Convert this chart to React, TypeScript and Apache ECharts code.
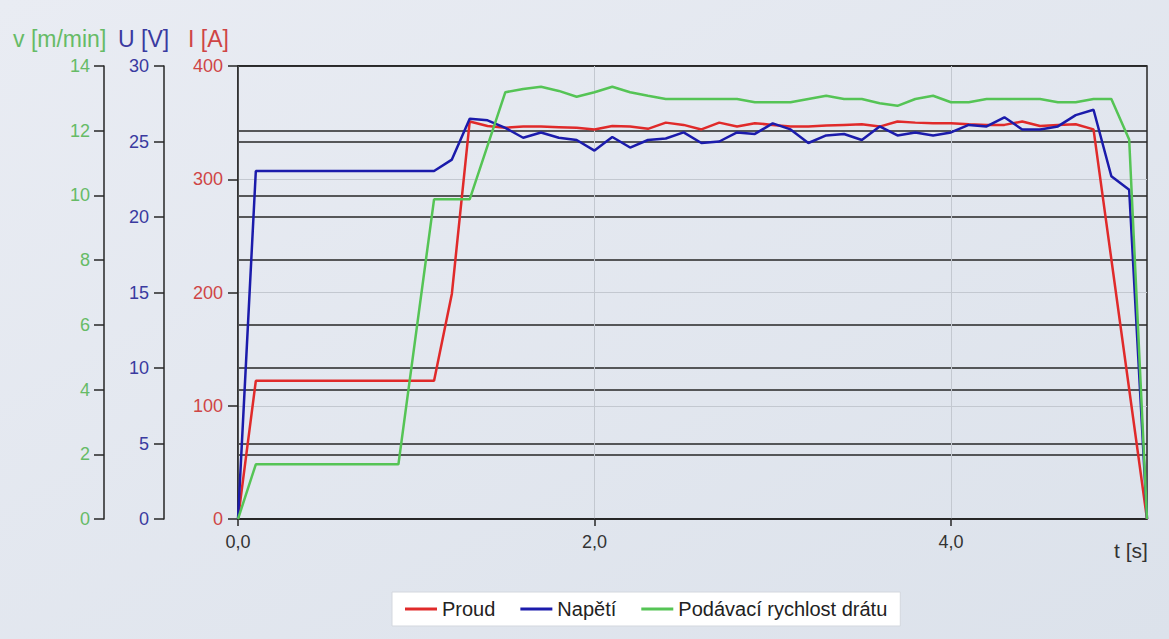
import React, { useEffect, useRef } from "react";
import * as echarts from "echarts";

// Proud (current) I [A]
const tProud = [0, 0.1, 1.1, 1.2, 1.3, 1.4, 1.5, 1.6, 1.7, 1.8, 1.9, 2.0, 2.1, 2.2, 2.3, 2.4, 2.5, 2.6, 2.7, 2.8, 2.9, 3.0, 3.1, 3.2, 3.3, 3.4, 3.5, 3.6, 3.7, 3.8, 3.9, 4.0, 4.1, 4.2, 4.3, 4.4, 4.5, 4.6, 4.7, 4.8, 5.1];
const proud = [0, 122, 122, 199, 351, 347, 345.5, 346.5, 346.5, 346, 345.5, 344, 347, 346.5, 344.5, 350, 348, 344, 350, 346.5, 349.5, 348, 346.5, 346.5, 347.5, 348, 348.5, 346.5, 351, 350, 349.5, 349.5, 348.5, 348, 348, 351, 347, 348, 348.5, 344, 0];

// Napětí (voltage) U [V]
const tNapeti = [0, 0.1, 1.1, 1.2, 1.3, 1.4, 1.5, 1.6, 1.7, 1.8, 1.9, 2.0, 2.1, 2.2, 2.3, 2.4, 2.5, 2.6, 2.7, 2.8, 2.9, 3.0, 3.1, 3.2, 3.3, 3.4, 3.5, 3.6, 3.7, 3.8, 3.9, 4.0, 4.1, 4.2, 4.3, 4.4, 4.5, 4.6, 4.7, 4.8, 4.9, 5.0, 5.1];
const napeti = [0, 23.05, 23.05, 23.8, 26.5, 26.4, 25.9, 25.25, 25.6, 25.25, 25.1, 24.4, 25.3, 24.6, 25.1, 25.2, 25.6, 24.9, 25.0, 25.6, 25.5, 26.2, 25.8, 24.9, 25.4, 25.5, 25.1, 26.0, 25.4, 25.6, 25.4, 25.6, 26.1, 26.0, 26.6, 25.8, 25.8, 26.0, 26.75, 27.1, 22.7, 21.8, 0];

// Podávací rychlost drátu (wire feed speed) v [m/min]
const tRychlost = [0, 0.1, 0.9, 1.1, 1.3, 1.5, 1.6, 1.7, 1.8, 1.9, 2.0, 2.1, 2.2, 2.3, 2.4, 2.8, 2.9, 3.1, 3.2, 3.3, 3.4, 3.5, 3.6, 3.7, 3.8, 3.9, 4.0, 4.1, 4.2, 4.5, 4.6, 4.7, 4.8, 4.9, 5.0, 5.1];
const rychlost = [0, 1.69, 1.69, 9.88, 9.88, 13.19, 13.29, 13.36, 13.23, 13.05, 13.19, 13.36, 13.19, 13.08, 12.98, 12.98, 12.88, 12.88, 12.98, 13.08, 12.98, 12.98, 12.85, 12.77, 12.98, 13.08, 12.88, 12.88, 12.98, 12.98, 12.88, 12.88, 12.98, 12.98, 11.73, 0];

const xTicks = [0, 2, 4];
const seriesNames = ["Proud", "Napětí", "Podávací rychlost drátu"];
const axisTitles = ["I [A]", "U [V]", "v [m/min]"];

const FONT = "'Liberation Sans', Arial, sans-serif";
const RED = "#e02a2a";
const BLUE = "#1b1bab";
const GREEN = "#55c455";
const RED_TXT = "#cf4545";
const BLUE_TXT = "#3a3aa0";
const GREEN_TXT = "#66bb66";
const BLACK_LINE = "#262626";

const pairs = (t: number[], v: number[]) => t.map((x, i) => [x, v[i]]);

export default function App() {
  const ref = useRef<HTMLDivElement>(null);
  useEffect(() => {
    if (!ref.current) return;
    const chart = echarts.init(ref.current, undefined, { renderer: "svg" });
    const yBase = (color: string, offset: number, max: number, interval: number, split: any, margin: number) => ({
      type: "value",
      position: "left",
      offset,
      min: 0,
      max,
      interval,
      axisLine: { show: true, onZero: false, lineStyle: { color: BLACK_LINE, width: 1.5 } },
      axisTick: { show: true, length: 10, lineStyle: { color: BLACK_LINE, width: 1.5 } },
      axisLabel: { color, fontSize: 18, fontFamily: FONT, margin },
      splitLine: split,
    });
    chart.setOption({
      animation: false,
      backgroundColor: new echarts.graphic.LinearGradient(0, 0, 1, 1, [
        { offset: 0, color: "#e9ecf3" },
        { offset: 1, color: "#dce2eb" },
      ]),
      grid: {
        left: 238,
        top: 66,
        right: 22,
        bottom: 120,
        show: true,
        borderColor: BLACK_LINE,
        borderWidth: 1.5,
        backgroundColor: "transparent",
        containLabel: false,
        outerBoundsMode: "none",
      },
      legend: {
        left: 392,
        top: 592,
        padding: [7, 13, 7, 13],
        backgroundColor: "#ffffff",
        borderColor: "#d3d7de",
        borderWidth: 1,
        borderRadius: 0,
        itemWidth: 32,
        itemHeight: 3,
        itemGap: 25,
        icon: "rect",
        textStyle: { fontSize: 20, color: "#222", fontFamily: FONT },
        data: seriesNames,
      },
      xAxis: {
        type: "value",
        min: 0,
        max: 5.1,
        interval: 2,
        axisLine: { show: true, onZero: false, lineStyle: { color: BLACK_LINE, width: 1.5 } },
        axisTick: { show: true, length: 7, customValues: xTicks, lineStyle: { color: BLACK_LINE, width: 1.5 } },
        axisLabel: {
          color: "#333",
          fontSize: 18,
          fontFamily: FONT,
          margin: 14,
          customValues: xTicks,
          formatter: (v: number) => v.toFixed(1).replace(".", ","),
        },
        splitLine: { show: true, lineStyle: { color: "#c3c8d0", width: 1 } },
      },
      yAxis: [
        yBase(RED_TXT, 0, 400, 100, { show: true, lineStyle: { color: "#c3c8d0", width: 1 } }, 15),
        yBase(BLUE_TXT, 74, 30, 5, {
          show: true,
          lineStyle: {
            color: [BLACK_LINE, BLACK_LINE, BLACK_LINE, "rgba(0,0,0,0)", BLACK_LINE, BLACK_LINE, BLACK_LINE],
            width: 1.5,
          },
        }, 15),
        yBase(GREEN_TXT, 134, 14, 2, { show: true, lineStyle: { color: BLACK_LINE, width: 1.5 } }, 14),
      ],
      graphic: [
        { type: "text", left: 13, top: 27, style: { text: axisTitles[2], fill: GREEN_TXT, font: `23px ${FONT}` } },
        { type: "text", left: 118, top: 27, style: { text: axisTitles[1], fill: BLUE_TXT, font: `23px ${FONT}` } },
        { type: "text", left: 188, top: 27, style: { text: axisTitles[0], fill: RED_TXT, font: `23px ${FONT}` } },
        { type: "text", left: 1114, top: 540, style: { text: "t [s]", fill: "#333", font: `21px ${FONT}` } },
      ],
      series: [
        {
          name: seriesNames[0],
          type: "line",
          yAxisIndex: 0,
          data: pairs(tProud, proud),
          showSymbol: false,
          color: RED,
          lineStyle: { color: RED, width: 2.5 },
        },
        {
          name: seriesNames[1],
          type: "line",
          yAxisIndex: 1,
          data: pairs(tNapeti, napeti),
          showSymbol: false,
          color: BLUE,
          lineStyle: { color: BLUE, width: 2.5 },
        },
        {
          name: seriesNames[2],
          type: "line",
          yAxisIndex: 2,
          data: pairs(tRychlost, rychlost),
          showSymbol: false,
          color: GREEN,
          lineStyle: { color: GREEN, width: 2.5 },
        },
      ],
    });
    return () => chart.dispose();
  }, []);
  return (
    <div
      ref={ref}
      style={{ position: "absolute", left: 0, top: 0, width: 1169, height: 639 }}
    />
  );
}
